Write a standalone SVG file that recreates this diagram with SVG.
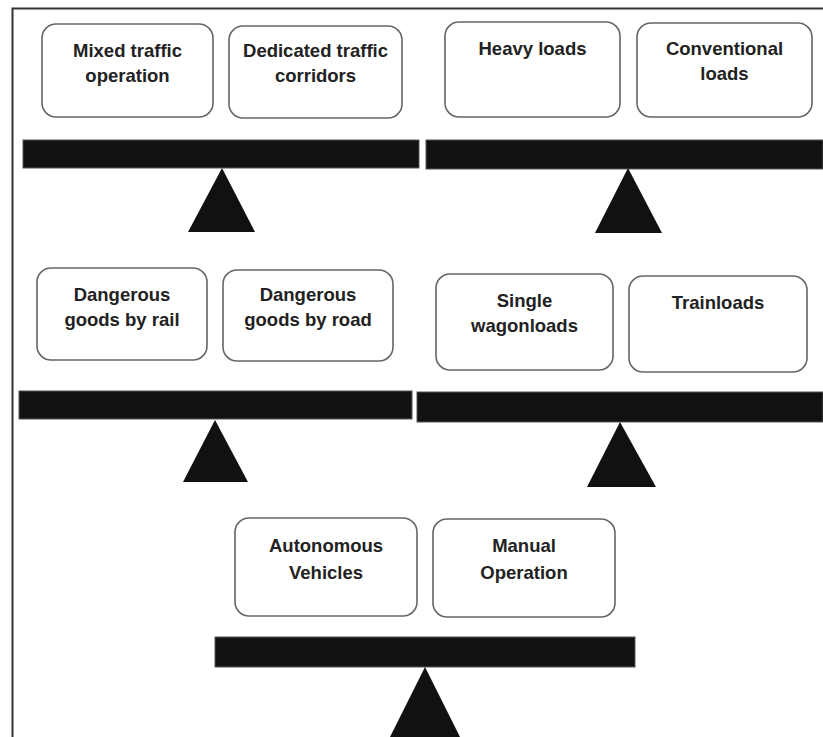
<svg xmlns="http://www.w3.org/2000/svg" width="823" height="737" viewBox="0 0 823 737">
<style>
.box{fill:#fff;stroke:#666;stroke-width:1.6}
.bar{fill:#111;stroke:#555;stroke-width:1}
.tri{fill:#111}
text{font-family:"Liberation Sans",Arial,sans-serif;font-weight:bold;font-size:18.5px;fill:#222;text-anchor:middle}
</style>
<rect width="823" height="737" fill="#fff"/>
<path d="M12.5,737 V8.5 H823" fill="none" stroke="#333" stroke-width="2"/>
<g id="connectors">
<rect class="bar" x="23" y="140" width="396" height="28"/>
<polygon class="tri" points="222,168 188,232 255,232"/>
<rect class="bar" x="426" y="140" width="397" height="29"/>
<polygon class="tri" points="628,168 595,233 662,233"/>
<rect class="bar" x="19" y="391" width="393" height="28"/>
<polygon class="tri" points="215,420 183,482 248,482"/>
<rect class="bar" x="417" y="392" width="406" height="30"/>
<polygon class="tri" points="620,422 587,487 656,487"/>
<rect class="bar" x="215" y="637" width="420" height="30"/>
<polygon class="tri" points="425,667 390,737 460,737"/>
</g>
<g id="n1"><rect class="box" x="42" y="24" width="171" height="93" rx="14"/><text x="127.5" y="57">Mixed traffic</text><text x="127.5" y="82">operation</text></g>
<g id="n2"><rect class="box" x="229" y="26" width="173" height="92" rx="14"/><text x="315.5" y="57">Dedicated traffic</text><text x="315.5" y="82">corridors</text></g>
<g id="n3"><rect class="box" x="445" y="22" width="175" height="95" rx="14"/><text x="532.5" y="55">Heavy loads</text></g>
<g id="n4"><rect class="box" x="637" y="23" width="175" height="94" rx="14"/><text x="724.5" y="55">Conventional</text><text x="724.5" y="80">loads</text></g>
<g id="n5"><rect class="box" x="37" y="268" width="170" height="92" rx="14"/><text x="122" y="301">Dangerous</text><text x="122" y="326">goods by rail</text></g>
<g id="n6"><rect class="box" x="223" y="270" width="170" height="91" rx="14"/><text x="308" y="301">Dangerous</text><text x="308" y="326">goods by road</text></g>
<g id="n7"><rect class="box" x="436" y="274" width="177" height="96" rx="14"/><text x="524.5" y="307">Single</text><text x="524.5" y="332">wagonloads</text></g>
<g id="n8"><rect class="box" x="629" y="276" width="178" height="96" rx="14"/><text x="718" y="309">Trainloads</text></g>
<g id="n9"><rect class="box" x="235" y="518" width="182" height="98" rx="14"/><text x="326" y="552">Autonomous</text><text x="326" y="579">Vehicles</text></g>
<g id="n10"><rect class="box" x="433" y="519" width="182" height="98" rx="14"/><text x="524" y="552">Manual</text><text x="524" y="579">Operation</text></g>
</svg>
